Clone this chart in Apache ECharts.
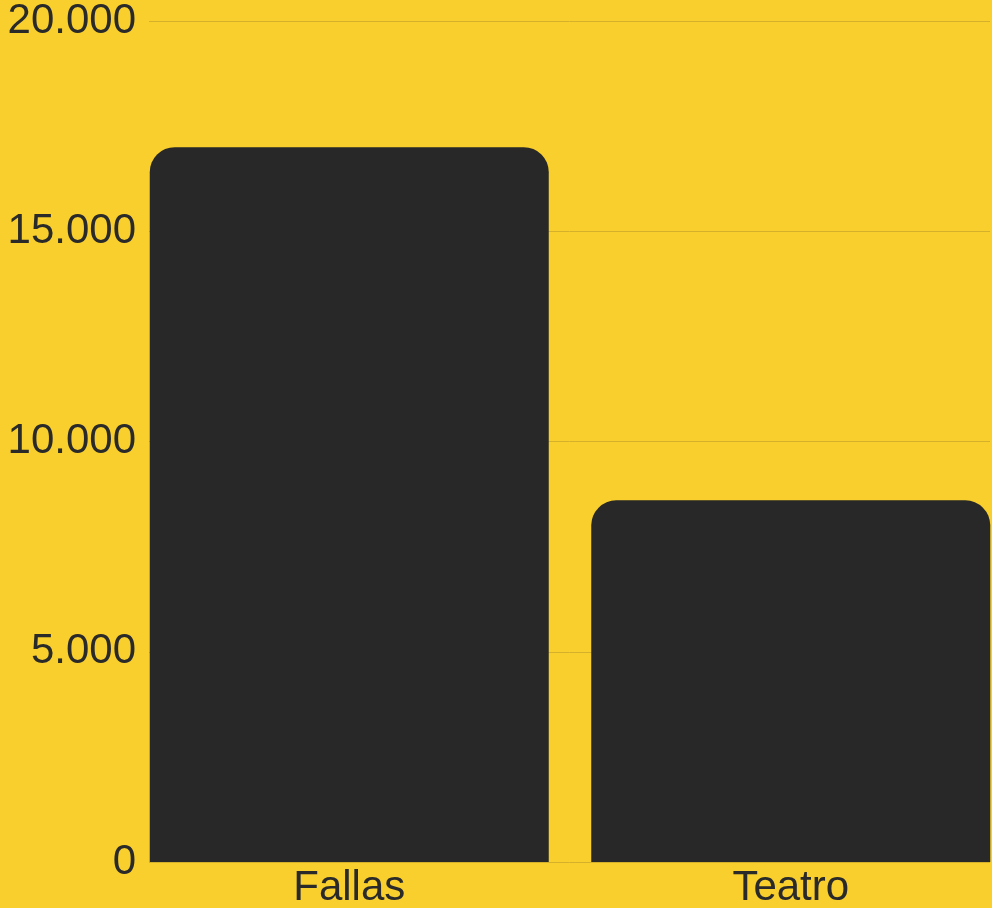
<!DOCTYPE html>
<html>
<head>
<meta charset="utf-8">
<script src="https://cdn.jsdelivr.net/npm/echarts@6/dist/echarts.min.js"></script>
<style>
html,body{margin:0;padding:0;background:#F9CF2D;}
#chart{width:992px;height:908px;}
</style>
</head>
<body>
<div id="chart"></div>
<script>
const categories = ['Fallas', 'Teatro'];
const values = [17000, 8600];
const yTicks = [0, 5000, 10000, 15000, 20000];

const fmt = v => String(v).replace(/\B(?=(\d{3})+(?!\d))/g, '.');
const textColor = '#292A29';
const gridColor = '#D5B02A';
const font = 'Liberation Sans';

const chart = echarts.init(document.getElementById('chart'));
chart.setOption({
  backgroundColor: '#F9CF2D',
  animation: false,
  grid: [
    { left: 149, right: 2, top: 21, bottom: 46, outerBoundsMode: 'none', containLabel: false },
    { left: 128.5, width: 883, top: 21, bottom: 46, outerBoundsMode: 'none', containLabel: false }
  ],
  xAxis: [
    { gridIndex: 0, type: 'category', data: categories, show: false },
    {
      gridIndex: 1, type: 'category', data: categories,
      axisLine: { show: false }, axisTick: { show: false },
      axisLabel: { color: textColor, fontSize: 42, fontFamily: font, margin: 5 }
    }
  ],
  yAxis: [
    {
      gridIndex: 0, type: 'value', min: yTicks[0], max: yTicks[yTicks.length - 1], interval: yTicks[1] - yTicks[0],
      axisLine: { show: false }, axisTick: { show: false },
      splitLine: { lineStyle: { color: gridColor, width: 1 } },
      axisLabel: { color: textColor, fontSize: 42, fontFamily: font, margin: 13, formatter: v => fmt(v) }
    },
    {
      gridIndex: 1, type: 'value', min: yTicks[0], max: yTicks[yTicks.length - 1], show: false
    }
  ],
  series: [{
    type: 'bar',
    xAxisIndex: 1, yAxisIndex: 1,
    data: values,
    barWidth: 399,
    itemStyle: { color: '#272827', borderRadius: [25, 25, 0, 0] }
  }]
});
</script>
</body>
</html>
